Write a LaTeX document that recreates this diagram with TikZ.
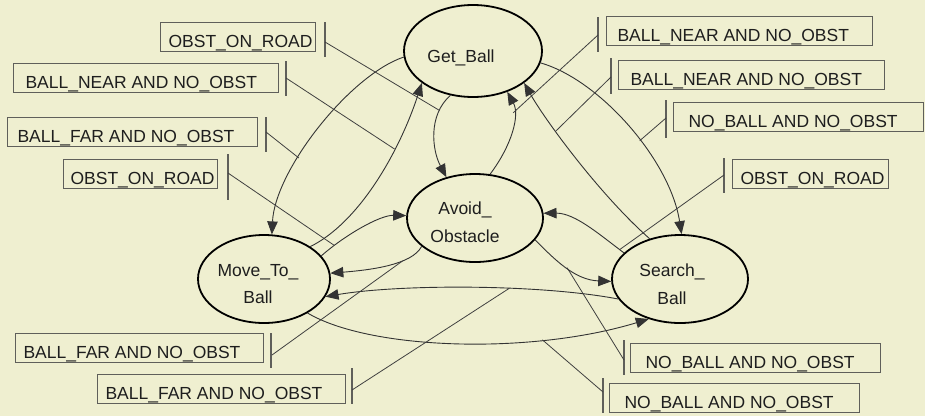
\documentclass[tikz,border=0pt]{standalone}
\usepackage{fontspec}
\setmainfont{Liberation Sans}
\usetikzlibrary{arrows.meta,shapes.geometric}
\definecolor{bgc}{RGB}{239,239,208}
\definecolor{ink}{RGB}{30,30,30}
\definecolor{boxc}{RGB}{95,95,90}
\tikzset{
  state/.style={ellipse, draw=black, line width=1.8pt, inner sep=0pt},
  stext/.style={text=ink, align=center, inner sep=0pt, font=\fontsize{17.5}{27.5}\selectfont},
  lbox/.style={draw=boxc, line width=1.1pt, inner xsep=0pt, inner ysep=4.25pt, anchor=north west,
    text height=20.5pt, text depth=0pt, text=ink, font=\fontsize{17.5}{20}\selectfont},
  edge/.style={draw=black!80, line width=0.9pt, -{Triangle[length=13pt,width=10.5pt]}},
  tickline/.style={draw=boxc, line width=1.1pt},
  leader/.style={draw=black!75, line width=0.8pt}
}
\newcommand{\lb}[3]{\makebox[#1][l]{\hspace*{#2}#3}}
\begin{document}
\begin{tikzpicture}[x=1pt,y=-1pt]
\fill[bgc] (0,0) rectangle (925,416);
\useasboundingbox (0,0) rectangle (925,416);

% states
\node[state, minimum width=138pt, minimum height=92pt] (gb) at (473,51) {};
\node[state, minimum width=136pt, minimum height=88pt] (ao) at (475,218) {};
\node[state, minimum width=132pt, minimum height=88pt] (mb) at (264,279) {};
\node[state, minimum width=136pt, minimum height=88pt] (sb) at (680,279) {};
\node[stext] (gbt) at (461,58) {Get\_Ball};
\node[stext] (aot) at (465,222) {Avoid\_\\Obstacle};
\node[stext] (mbt) at (258,284) {Move\_To\_\\Ball};
\node[stext] (sbt) at (672,284) {Search\_\\Ball};

% transitions
\draw[edge] (gb.185) .. controls (350,75) and (275,170) .. (mb.80) coordinate[pos=0.64] (m1);
\draw[edge] (mb.35) .. controls (360,222) and (400,150) .. (gb.212) coordinate[pos=0.67] (m2);
\draw[edge] (gb.243) .. controls (428,115) and (432,150) .. (ao.125) coordinate[pos=0.22] (m3);
\draw[edge] (ao.71) .. controls (512,145) and (520,115) .. (gb.310) coordinate[pos=0.72] (m4);
\draw[edge] (sb.127) .. controls (600,195) and (545,120) .. (gb.328) coordinate[pos=0.66] (m5);
\draw[edge] (gb.350) .. controls (600,80) and (670,160) .. (sb.88) coordinate[pos=0.57] (m6);
\draw[edge] (mb.22) .. controls (345,235) and (380,215) .. (ao.178) coordinate[pos=0.17] (m7);
\draw[edge] (ao.208) .. controls (412,265) and (370,270) .. (mb.5) coordinate[pos=0.33] (m8);
\draw[edge] (sb.155) .. controls (600,235) and (575,213) .. (ao.4) coordinate[pos=0.06] (m9);
\draw[edge] (ao.340) .. controls (555,260) and (575,280) .. (sb.182) coordinate[pos=0.5] (m10);
\draw[edge] (sb.198) .. controls (540,284) and (400,284) .. (mb.344) coordinate[pos=0.38] (m11);
\draw[edge] (mb.322) .. controls (370,350) and (530,355) .. (sb.232) coordinate[pos=0.72] (m12);

% label boxes
\node[lbox] (b1) at (160,22) {\lb{155pt}{8pt}{OBST\_ON\_ROAD}};
\node[lbox] (b2) at (13,63) {\lb{265pt}{12pt}{BALL\_NEAR AND NO\_OBST}};
\node[lbox] (b3) at (7,117) {\lb{250pt}{10pt}{BALL\_FAR AND NO\_OBST}};
\node[lbox] (b4) at (63,159) {\lb{154pt}{7pt}{OBST\_ON\_ROAD}};
\node[lbox] (b5) at (606,16) {\lb{266pt}{11pt}{BALL\_NEAR AND NO\_OBST}};
\node[lbox] (b6) at (618,60) {\lb{266pt}{12pt}{BALL\_NEAR AND NO\_OBST}};
\node[lbox] (b7) at (673,102) {\lb{250pt}{15pt}{NO\_BALL AND NO\_OBST}};
\node[lbox] (b8) at (732,159) {\lb{156pt}{8pt}{OBST\_ON\_ROAD}};
\node[lbox] (b9) at (15,333) {\lb{248pt}{8pt}{BALL\_FAR AND NO\_OBST}};
\node[lbox] (b10) at (97,374) {\lb{248pt}{8pt}{BALL\_FAR AND NO\_OBST}};
\node[lbox] (b11) at (630,343) {\lb{250pt}{15pt}{NO\_BALL AND NO\_OBST}};
\node[lbox] (b12) at (609,383) {\lb{250pt}{15pt}{NO\_BALL AND NO\_OBST}};

% ticks
\draw[tickline] (325,22) -- (325,57);
\draw[tickline] (286,61) -- (286,96);
\draw[tickline] (266,117) -- (266,152);
\draw[tickline] (228,154) -- (228,200);
\draw[tickline] (598,17) -- (598,52);
\draw[tickline] (611,58) -- (611,94);
\draw[tickline] (666,100) -- (666,138);
\draw[tickline] (724,158) -- (724,193);
\draw[tickline] (271,333) -- (271,368);
\draw[tickline] (352,368) -- (352,404);
\draw[tickline] (624,340) -- (624,375);
\draw[tickline] (603,378) -- (603,413);

% leader start points
\coordinate (t1) at (325,42);
\coordinate (t2) at (286,78);
\coordinate (t3) at (266,132);
\coordinate (t4) at (228,173);
\coordinate (t5) at (598,35);
\coordinate (t6) at (611,77);
\coordinate (t7) at (666,118);
\coordinate (t8) at (724,175);
\coordinate (t9) at (272,355);
\coordinate (t10) at (352,390);
\coordinate (t11) at (624,360);
\coordinate (t12) at (603,392);

% leaders
\draw[leader] (t1) -- (m3);
\draw[leader] (t2) -- (m2);
\draw[leader] (t3) -- (m1);
\draw[leader] (t4) -- (m7);
\draw[leader] (t5) -- (m4);
\draw[leader] (t6) -- (m5);
\draw[leader] (t7) -- (m6);
\draw[leader] (t8) -- (m9);
\draw[leader] (t9) -- (m8);
\draw[leader] (t10) -- (m11);
\draw[leader] (t11) -- (m10);
\draw[leader] (t12) -- (m12);
\end{tikzpicture}
\end{document}
